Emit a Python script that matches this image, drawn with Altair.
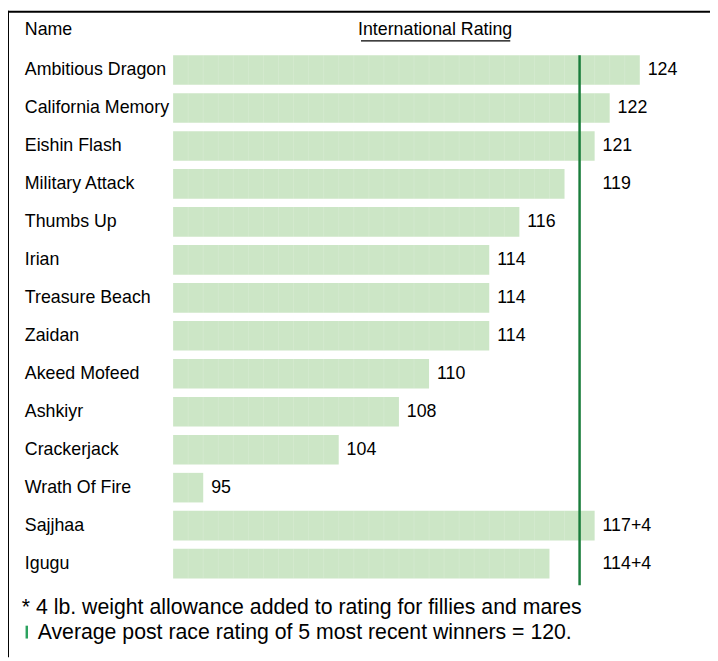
import altair as alt
import pandas as pd

names = ["Ambitious Dragon", "California Memory", "Eishin Flash", "Military Attack",
         "Thumbs Up", "Irian", "Treasure Beach", "Zaidan", "Akeed Mofeed", "Ashkiyr",
         "Crackerjack", "Wrath Of Fire", "Sajjhaa", "Igugu"]
ratings = [124, 122, 121, 119, 116, 114, 114, 114, 110, 108, 104, 95, 117, 114]
allowance = [0, 0, 0, 0, 0, 0, 0, 0, 0, 0, 0, 0, 4, 4]
average = 120
header_name = "Name"
header_rating = "International Rating"
note1 = "* 4 lb. weight allowance added to rating for fillies and mares"
note2 = "Average post race rating of 5 most recent winners = 120."

df = pd.DataFrame({
    "name": names,
    "rating": ratings,
    "allow": allowance,
})
df["total"] = df["rating"] + df["allow"]
df["label"] = [f"{r}+{a}" if a else f"{r}" for r, a in zip(ratings, allowance)]

W, H = 710, 653
FONT = "Liberation Sans"
FS = 18
FS_NOTE = 21.5
BAR = "#cce6c6"
GREEN = "#1a7d3c"

xscale = alt.Scale(domain=[93, 124], range=[167, 639], zero=False, nice=False)
yscale = alt.Scale(domain=names, range=[39.8, 577.4], paddingInner=0.22, paddingOuter=0.11)

base = alt.Chart(df)

bars = base.mark_bar(color=BAR, cornerRadius=0).encode(
    x=alt.X("total:Q", scale=xscale, axis=None),
    x2=alt.X2(datum=93),
    y=alt.Y("name:N", scale=yscale, axis=None, sort=None),
)

ticks = base.transform_calculate(
    t="sequence(94, datum.total)"
).transform_flatten(["t"]).mark_tick(
    color="white", opacity=0.15, thickness=1, size=30, orient="vertical"
).encode(
    x=alt.X("t:Q", scale=xscale, axis=None),
    y=alt.Y("name:N", scale=yscale, axis=None, sort=None),
)

name_text = base.mark_text(align="left", baseline="middle", font=FONT, fontSize=FS, color="#000").encode(
    x=alt.value(17),
    y=alt.Y("name:N", scale=yscale, axis=None, sort=None),
    text="name:N",
)

value_text = base.transform_calculate(
    lx="(datum.total >= 117 && datum.total < 121) ? 121 : datum.total"
).mark_text(
    align="left", baseline="middle", font=FONT, fontSize=FS, color="#000", dx=8
).encode(
    x=alt.X("lx:Q", scale=xscale, axis=None),
    y=alt.Y("name:N", scale=yscale, axis=None, sort=None),
    text="label:N",
)

one = alt.Chart(pd.DataFrame({"a": [0]}))

avg_line = one.mark_rule(color=GREEN, strokeWidth=2.5).encode(
    x=alt.X(datum=average, scale=xscale, axis=None),
    y=alt.value(44),
    y2=alt.value(580),
)

h_name = one.mark_text(align="left", baseline="middle", font=FONT, fontSize=FS, color="#000").encode(
    x=alt.value(17), y=alt.value(19), text=alt.value(header_name))
h_rating = one.mark_text(align="center", baseline="middle", font=FONT, fontSize=FS, color="#000").encode(
    x=alt.value(432), y=alt.value(19), text=alt.value(header_rating))
underline = one.mark_rule(color="#000", strokeWidth=1.2).encode(
    x=alt.value(357), x2=alt.value(508), y=alt.value(29.5))

n1 = one.mark_text(align="left", baseline="middle", font=FONT, fontSize=FS_NOTE, color="#000").encode(
    x=alt.value(14), y=alt.value(603), text=alt.value(note1))
n2 = one.mark_text(align="left", baseline="middle", font=FONT, fontSize=FS_NOTE, color="#000").encode(
    x=alt.value(30), y=alt.value(628), text=alt.value(note2))
mark2 = one.mark_rule(color="#2ca25f", strokeWidth=2.5).encode(
    x=alt.value(19), y=alt.value(621), y2=alt.value(634))

border_l = one.mark_rule(color="#000", strokeWidth=2).encode(
    x=alt.value(0), y=alt.value(-1), y2=alt.value(H))
border_t = one.mark_rule(color="#000", strokeWidth=2).encode(
    x=alt.value(-1), x2=alt.value(W), y=alt.value(0))

chart = alt.layer(
    bars, ticks, avg_line, name_text, value_text, h_name, h_rating, underline,
    n1, n2, mark2, border_l, border_t
).properties(
    width=W, height=H, autosize=alt.AutoSizeParams(type="none"), padding=0, background="white"
).configure_view(stroke=None)

chart.save("out.html", embed_options={"renderer": "svg", "actions": False})
